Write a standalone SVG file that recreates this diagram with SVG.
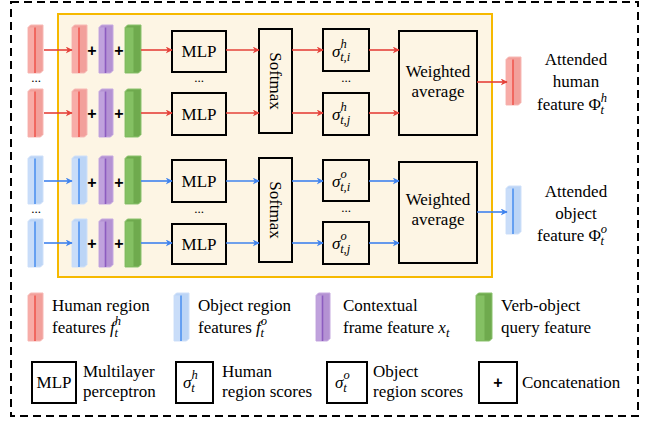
<svg xmlns="http://www.w3.org/2000/svg" xmlns:xlink="http://www.w3.org/1999/xlink" width="645" height="421" viewBox="0 0 645 421">
<style>
  text { font-family: "Liberation Serif", "DejaVu Serif", serif; font-size: 17px; fill: #000; }
  .it { font-style: italic; }
  .box { fill: none; stroke: #000; stroke-width: 2; }
  .plus { font-family: "Liberation Sans", "DejaVu Sans", sans-serif; font-weight: bold; font-size: 16px; text-anchor: middle; }
  .dots { font-size: 13px; text-anchor: middle; }
  .red { stroke: #e5423a; stroke-width: 1.6; fill: none; marker-end: url(#ahR); }
  .blue { stroke: #3f83ee; stroke-width: 1.6; fill: none; marker-end: url(#ahB); }
  .sub { font-size: 12.5px; font-style: italic; }
  .mid { text-anchor: middle; }
</style>
<defs>
  <marker id="ahR" viewBox="0 0 10 10" refX="9" refY="5" markerWidth="7" markerHeight="7" orient="auto" markerUnits="userSpaceOnUse">
    <path d="M0,0 L10,5 L0,10 L3,5 Z" fill="#e5423a"/>
  </marker>
  <marker id="ahB" viewBox="0 0 10 10" refX="9" refY="5" markerWidth="7" markerHeight="7" orient="auto" markerUnits="userSpaceOnUse">
    <path d="M0,0 L10,5 L0,10 L3,5 Z" fill="#3f83ee"/>
  </marker>
  <g id="barR">
    <path d="M0,2.5 L2.5,0 L15,0 L15,45.5 L12.5,48 L0,48 Z" fill="#f2a09b" stroke="#f7b9b5" stroke-width="1"/>
    <rect x="0.5" y="2.5" width="6.5" height="45" fill="#f8aca7"/>
    <line x1="7" y1="2.5" x2="7" y2="48" stroke="#ef5850" stroke-width="1.6"/>
  </g>
  <g id="barB">
    <path d="M0,2.5 L2.5,0 L15,0 L15,45.5 L12.5,48 L0,48 Z" fill="#bcd5f6" stroke="#cfe0f9" stroke-width="1"/>
    <rect x="0.5" y="2.5" width="6.5" height="45" fill="#c9ddf9"/>
    <line x1="7" y1="2.5" x2="7" y2="48" stroke="#4f92f0" stroke-width="1.6"/>
  </g>
  <g id="barP">
    <path d="M0,2.5 L2.5,0 L14,0 L14,45.5 L11.5,48 L0,48 Z" fill="#b492d3" stroke="#c6a9e0" stroke-width="1"/>
    <rect x="0.5" y="2.5" width="6" height="45" fill="#c0a2dd"/>
    <line x1="6.5" y1="2.5" x2="6.5" y2="48" stroke="#8c5cc0" stroke-width="1.6"/>
  </g>
  <g id="barG">
    <path d="M0,2.5 L2.5,0 L16,0 L16,45.5 L13.5,48 L0,48 Z" fill="#6faa4e" stroke="#8cc36f" stroke-width="1"/>
    <rect x="0.5" y="2.5" width="8" height="45" fill="#84c063"/>
  </g>
</defs>

<rect id="outer" x="11" y="2" width="627" height="414" fill="#fff" stroke="#000" stroke-width="2" stroke-dasharray="8,5"/>
<rect id="module" x="58" y="14" width="434" height="263" fill="#fdf5e4" stroke="#f6b900" stroke-width="2"/>

<!-- Human branch -->
<g id="human-inputs">
  <use xlink:href="#barR" x="28" y="25"/>
  <use xlink:href="#barR" x="28" y="89"/>
  <text class="dots" x="36" y="82">...</text>
</g>
<g id="human-concat-1">
  <use xlink:href="#barR" x="72" y="25"/>
  <text class="plus" x="92" y="56">+</text>
  <use xlink:href="#barP" x="99" y="25"/>
  <text class="plus" x="119" y="56">+</text>
  <use xlink:href="#barG" x="125" y="25"/>
</g>
<g id="human-concat-2">
  <use xlink:href="#barR" x="72" y="89"/>
  <text class="plus" x="92" y="119">+</text>
  <use xlink:href="#barP" x="99" y="89"/>
  <text class="plus" x="119" y="119">+</text>
  <use xlink:href="#barG" x="125" y="89"/>
</g>
<g id="human-mlp-1"><rect class="box" x="172" y="31" width="54" height="41"/><text class="mid" x="199" y="57">MLP</text></g>
<text class="dots" x="199" y="82">...</text>
<g id="human-mlp-2"><rect class="box" x="172" y="93" width="54" height="42"/><text class="mid" x="199" y="120">MLP</text></g>
<g id="human-softmax"><rect class="box" x="259" y="29" width="33" height="104"/><text class="mid" transform="translate(270,81) rotate(90)">Softmax</text></g>
<g id="human-score-i"><rect class="box" x="323" y="29" width="46" height="42"/>
  <text class="it" x="332" y="57">σ<tspan class="sub" dy="-9">h</tspan><tspan class="sub" dx="-6.5" dy="13">t,i</tspan></text></g>
<text class="dots" x="346" y="82">...</text>
<g id="human-score-j"><rect class="box" x="323" y="93" width="46" height="42"/>
  <text class="it" x="332" y="120">σ<tspan class="sub" dy="-9">h</tspan><tspan class="sub" dx="-6.5" dy="13">t,j</tspan></text></g>
<g id="human-weighted"><rect class="box" x="399" y="31" width="78" height="104"/>
  <text class="mid" x="438" y="77">Weighted</text><text class="mid" x="438" y="97">average</text></g>
<g id="human-output">
  <use xlink:href="#barR" x="506" y="57"/>
  <text class="mid" x="576" y="65">Attended</text>
  <text class="mid" x="576" y="87">human</text>
  <text x="537" y="110">feature Φ<tspan class="sub" dy="-8">h</tspan><tspan class="sub" dx="-6.5" dy="12">t</tspan></text>
</g>

<!-- Object branch -->
<g id="object-inputs">
  <use xlink:href="#barB" x="28" y="156"/>
  <use xlink:href="#barB" x="28" y="219"/>
  <text class="dots" x="36" y="213">...</text>
</g>
<g id="object-concat-1">
  <use xlink:href="#barB" x="72" y="156"/>
  <text class="plus" x="92" y="188">+</text>
  <use xlink:href="#barP" x="99" y="156"/>
  <text class="plus" x="119" y="188">+</text>
  <use xlink:href="#barG" x="125" y="156"/>
</g>
<g id="object-concat-2">
  <use xlink:href="#barB" x="72" y="219"/>
  <text class="plus" x="92" y="249">+</text>
  <use xlink:href="#barP" x="99" y="219"/>
  <text class="plus" x="119" y="249">+</text>
  <use xlink:href="#barG" x="125" y="219"/>
</g>
<g id="object-mlp-1"><rect class="box" x="172" y="160" width="54" height="42"/><text class="mid" x="199" y="187">MLP</text></g>
<text class="dots" x="199" y="213">...</text>
<g id="object-mlp-2"><rect class="box" x="172" y="224" width="54" height="40"/><text class="mid" x="199" y="250">MLP</text></g>
<g id="object-softmax"><rect class="box" x="259" y="158" width="33" height="104"/><text class="mid" transform="translate(270,210) rotate(90)">Softmax</text></g>
<g id="object-score-i"><rect class="box" x="323" y="160" width="46" height="41"/>
  <text class="it" x="332" y="187">σ<tspan class="sub" dy="-9">o</tspan><tspan class="sub" dx="-6.5" dy="13">t,i</tspan></text></g>
<text class="dots" x="346" y="212">...</text>
<g id="object-score-j"><rect class="box" x="323" y="222" width="46" height="42"/>
  <text class="it" x="332" y="249">σ<tspan class="sub" dy="-9">o</tspan><tspan class="sub" dx="-6.5" dy="13">t,j</tspan></text></g>
<g id="object-weighted"><rect class="box" x="399" y="162" width="78" height="101"/>
  <text class="mid" x="438" y="205">Weighted</text><text class="mid" x="438" y="225">average</text></g>
<g id="object-output">
  <use xlink:href="#barB" x="506" y="186"/>
  <text class="mid" x="576" y="197">Attended</text>
  <text class="mid" x="576" y="219">object</text>
  <text x="537" y="241">feature Φ<tspan class="sub" dy="-8">o</tspan><tspan class="sub" dx="-6.5" dy="12">t</tspan></text>
</g>

<!-- Connectors -->
<g id="connectors">
  <line class="red" x1="44" y1="50" x2="72" y2="50"/>
  <line class="red" x1="44" y1="113" x2="72" y2="113"/>
  <line class="red" x1="141" y1="50" x2="172" y2="50"/>
  <line class="red" x1="141" y1="113" x2="172" y2="113"/>
  <line class="red" x1="226" y1="50" x2="259" y2="50"/>
  <line class="red" x1="226" y1="113" x2="259" y2="113"/>
  <line class="red" x1="292" y1="50" x2="323" y2="50"/>
  <line class="red" x1="292" y1="113" x2="323" y2="113"/>
  <line class="red" x1="369" y1="50" x2="399" y2="50"/>
  <line class="red" x1="369" y1="113" x2="399" y2="113"/>
  <line class="red" x1="477" y1="82" x2="507" y2="82"/>
  <line class="blue" x1="44" y1="181" x2="72" y2="181"/>
  <line class="blue" x1="44" y1="243" x2="72" y2="243"/>
  <line class="blue" x1="141" y1="181" x2="172" y2="181"/>
  <line class="blue" x1="141" y1="243" x2="172" y2="243"/>
  <line class="blue" x1="226" y1="181" x2="259" y2="181"/>
  <line class="blue" x1="226" y1="243" x2="259" y2="243"/>
  <line class="blue" x1="292" y1="181" x2="323" y2="181"/>
  <line class="blue" x1="292" y1="243" x2="323" y2="243"/>
  <line class="blue" x1="369" y1="181" x2="399" y2="181"/>
  <line class="blue" x1="369" y1="243" x2="399" y2="243"/>
  <line class="blue" x1="477" y1="212" x2="507" y2="212"/>
</g>

<!-- Legend -->
<g id="legend-human"><use xlink:href="#barR" x="28" y="293"/>
  <text x="52" y="311">Human region</text>
  <text x="52" y="333">features <tspan class="it">f</tspan><tspan class="sub" dy="-8">h</tspan><tspan class="sub" dx="-6.5" dy="12">t</tspan></text></g>
<g id="legend-object"><use xlink:href="#barB" x="174" y="293"/>
  <text x="198" y="311">Object region</text>
  <text x="198" y="333">features <tspan class="it">f</tspan><tspan class="sub" dy="-8">o</tspan><tspan class="sub" dx="-6.5" dy="12">t</tspan></text></g>
<g id="legend-context"><use xlink:href="#barP" x="316" y="293"/>
  <text x="343" y="311">Contextual</text>
  <text x="343" y="333">frame feature <tspan class="it">x</tspan><tspan class="sub" dy="4">t</tspan></text></g>
<g id="legend-verb"><use xlink:href="#barG" x="476" y="293"/>
  <text x="501" y="311">Verb-object</text>
  <text x="501" y="333">query feature</text></g>
<g id="legend-mlp"><rect class="box" x="32" y="362" width="44" height="41"/><text class="mid" x="54" y="388">MLP</text>
  <text x="83" y="377">Multilayer</text><text x="83" y="397">perceptron</text></g>
<g id="legend-hscore"><rect class="box" x="176" y="362" width="37" height="41"/>
  <text class="it" x="183" y="388">σ<tspan class="sub" dy="-9">h</tspan><tspan class="sub" dx="-6.5" dy="13">t</tspan></text>
  <text x="222" y="377">Human</text><text x="222" y="397">region scores</text></g>
<g id="legend-oscore"><rect class="box" x="327" y="362" width="40" height="41"/>
  <text class="it" x="335" y="388">σ<tspan class="sub" dy="-9">o</tspan><tspan class="sub" dx="-6.5" dy="13">t</tspan></text>
  <text x="373" y="377">Object</text><text x="373" y="397">region scores</text></g>
<g id="legend-concat"><rect class="box" x="479" y="362" width="38" height="41"/>
  <text class="plus" x="498" y="388">+</text>
  <text x="522" y="388">Concatenation</text></g>
</svg>
